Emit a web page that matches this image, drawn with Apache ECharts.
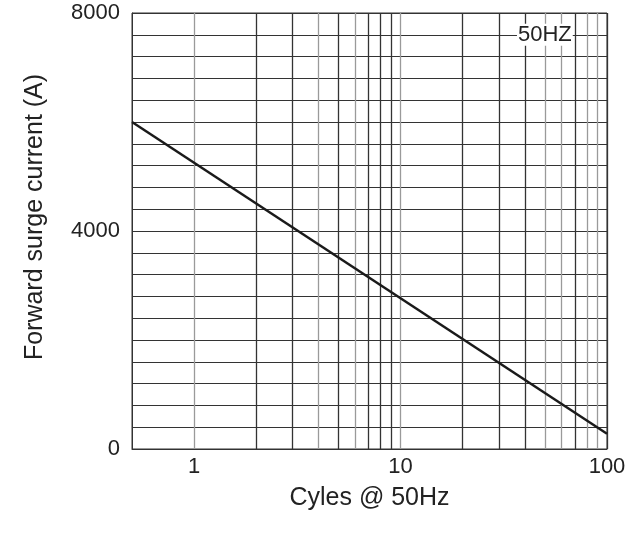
<!DOCTYPE html>
<html>
<head>
<meta charset="utf-8">
<script src="https://cdn.jsdelivr.net/npm/echarts@6/dist/echarts.min.js"></script>
<style>html,body{margin:0;padding:0;background:#fff}#c{width:634px;height:533px}</style>
</head>
<body>
<div id="c"></div>
<script>
// Data
var cycles = [0.5, 100];
var surgeCurrent = [6000, 280];
var xLabelValues = [1, 10, 100];
var xGridValues = [1, 2, 3, 4, 5, 6, 7, 8, 9, 10, 20, 30, 40, 50, 60, 70, 80, 90, 100];
var yLabelValues = [0, 4000, 8000];
var noteText = '50HZ';
var noteAt = [50, 7600];

var FONT = 'Liberation Sans, Arial, Helvetica, sans-serif';
var dark = '#333', grey = '#9a9a9a';
var xGridColors = [grey, dark, dark, grey, dark, grey, dark, dark, dark, grey, dark, dark, dark, grey, grey, dark, grey, grey, dark];

var chart = echarts.init(document.getElementById('c'), null, {renderer: 'canvas'});
chart.setOption({
  animation: false,
  backgroundColor: '#fff',
  grid: {left: 132, right: 27, top: 13, bottom: 84, show: true, borderColor: dark, borderWidth: 1, backgroundColor: 'transparent'},
  xAxis: {
    type: 'log', logBase: 10, min: 0.5, max: 100,
    name: 'Cyles @ 50Hz', nameLocation: 'middle', nameGap: 37,
    nameTextStyle: {fontFamily: FONT, fontSize: 25, color: '#222'},
    axisLine: {show: true, lineStyle: {color: dark, width: 1}},
    axisTick: {show: false, customValues: xGridValues},
    axisLabel: {customValues: xLabelValues, fontFamily: FONT, fontSize: 22, color: '#222', margin: 7,
      formatter: function (v) { return String(v); }},
    splitLine: {show: true, lineStyle: {color: xGridColors, width: 1.3}},
    minorTick: {show: false}, minorSplitLine: {show: false}
  },
  yAxis: {
    type: 'value', min: 0, max: 8000, interval: 400,
    name: 'Forward surge current (A)', nameLocation: 'middle', nameGap: 84, nameRotate: 90,
    nameTextStyle: {fontFamily: FONT, fontSize: 25, color: '#222', padding: [0, 0, 0, 28]},
    axisLine: {show: true, lineStyle: {color: dark, width: 1}},
    axisTick: {show: false},
    axisLabel: {customValues: yLabelValues, fontFamily: FONT, fontSize: 22, color: '#222', margin: 12,
      formatter: function (v) { return String(v); }},
    splitLine: {show: true, lineStyle: {color: dark, width: 1}}
  },
  series: [{
    type: 'line',
    data: cycles.map(function (c, i) { return [c, surgeCurrent[i]]; }),
    symbol: 'none',
    lineStyle: {color: '#1a1a1a', width: 2.5},
    markPoint: {
      symbol: 'circle', symbolSize: 0, silent: true,
      data: [{coord: noteAt, value: noteText}],
      label: {show: true, position: 'inside', formatter: noteText, fontFamily: FONT, fontSize: 22, color: '#222',
        backgroundColor: '#fff', padding: [0, 1, 0, 1]}
    }
  }]
});
</script>
</body>
</html>
